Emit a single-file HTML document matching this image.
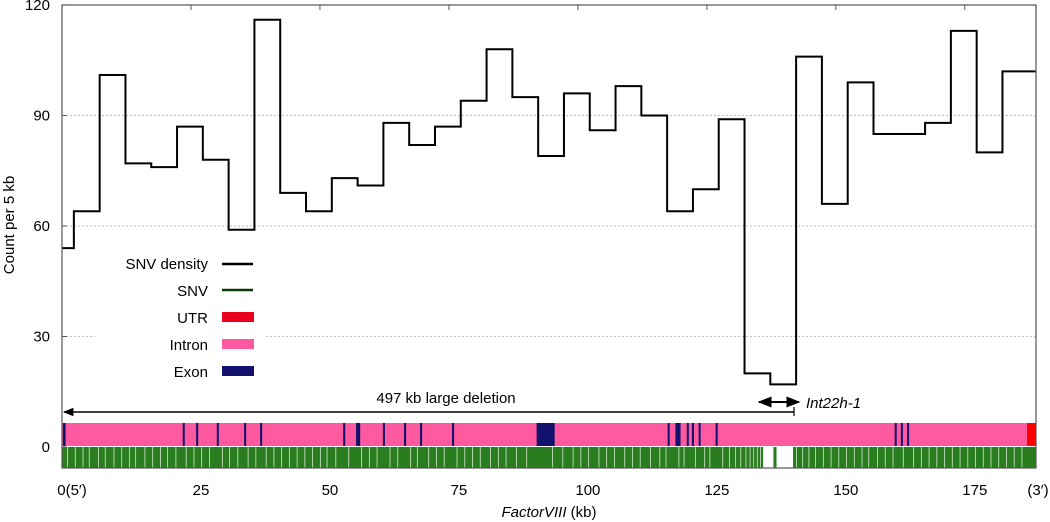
<!DOCTYPE html>
<html><head><meta charset="utf-8"><style>
body{margin:0;background:#fff;}
svg{display:block;font-family:"Liberation Sans",Arial,sans-serif;}
</style></head><body>
<svg id="chart" width="1050" height="522" viewBox="0 0 1050 522">
<defs>
<marker id="ah" viewBox="0 0 10 10" refX="9" refY="5" markerWidth="7" markerHeight="7" orient="auto-start-reverse"><path d="M0,1 L10,5 L0,9 z" fill="#000"/></marker>
</defs>
<g id="grid"></g>
<g id="tracks"></g>
<g id="series"></g>
<rect x="62" y="5" width="974" height="463" fill="none" stroke="#555" stroke-width="1.2"/>
<g id="axes"></g>
<g>
<rect x="95" y="250" width="170" height="132" fill="#fff"/>
<text x="208" y="269" text-anchor="end" font-size="15">SNV density</text>
<line x1="222" y1="264" x2="253" y2="264" stroke="#000" stroke-width="2.5"/>
<text x="208" y="296" text-anchor="end" font-size="15">SNV</text>
<line x1="222" y1="290" x2="253" y2="290" stroke="#0a3a0a" stroke-width="2.5"/>
<text x="208" y="323" text-anchor="end" font-size="15">UTR</text>
<rect x="222" y="312" width="32" height="10" fill="#e8001c"/>
<text x="208" y="350" text-anchor="end" font-size="15">Intron</text>
<rect x="222" y="339" width="32" height="10" fill="#ff5aa0"/>
<text x="208" y="377" text-anchor="end" font-size="15">Exon</text>
<rect x="222" y="366" width="32" height="10" fill="#12126e"/>
</g>
<g>
<line x1="64" y1="412" x2="794" y2="412" stroke="#000" stroke-width="1.5" marker-start="url(#ah)"/>
<line x1="794" y1="407" x2="794" y2="416" stroke="#000" stroke-width="1.2"/>
<text x="446" y="403" text-anchor="middle" font-size="15">497 kb large deletion</text>
<line x1="759" y1="402" x2="799" y2="402" stroke="#000" stroke-width="2" marker-start="url(#ah)" marker-end="url(#ah)"/>
<text x="806" y="408" font-size="15" font-style="italic">Int22h-1</text>
</g>
<text transform="translate(14,225) rotate(-90)" text-anchor="middle" font-size="15">Count per 5 kb</text>
<text x="549" y="517" text-anchor="middle" font-size="15"><tspan font-style="italic">FactorVIII</tspan> (kb)</text>
</svg>
<script>
const counts=[54,64,101,77,76,87,78,59,116,69,64,73,71,88,82,87,94,108,95,79,96,86,98,90,64,70,89,20,17,106,66,99,85,85,88,113,80,102];
const yTicks=[0,30,60,90,120];
const xTickLabels=["0(5′)","25","50","75","100","125","150","175"];
const xTickKb=[0,25,50,75,100,125,150,175];
const exonKb=[0.2,23.4,26,30,35.3,38.4,54.5,57,62.2,66.3,69.4,75.6,92,117.4,118.9,121.1,122.1,123.4,126.7,161.4,162.6,163.8];
const exonWidthKb=[0.5,0.4,0.4,0.4,0.4,0.4,0.4,0.8,0.4,0.4,0.4,0.4,3.5,0.4,1.0,0.4,0.4,0.4,0.4,0.4,0.4,0.4];
const snvGapKb=[1,2.5,4,5.2,7,8.3,10,11.5,13,14.2,16,17.5,19,20.4,22,24,25.5,27,28.5,31,32.4,34,36,37.5,39.5,41,42.5,44,45.5,47,48.5,50,51.3,53,55.5,58,59.5,61,63.5,65,67.5,68.8,71,72.5,74,76.5,78,79.5,81,83,84.5,86,88,90,95,97,99,100.5,102,104,105.5,107,109,110.5,112,114,115.8,117,119.5,120.5,122.7,124.5,125.5,128,129.3,130.5,131.5,132.5,133.3,134,134.7,135.3,140.6,141.5,142.3,143.5,144.7,146,147.5,149,150.5,152,153.5,155,156.3,158,159.5,161,163,165,166.5,168,169.5,171,172.5,174,175.5,177,178.5,180,181.5,183,184.5,186];
const NS="http://www.w3.org/2000/svg";
const X0=62,X1=1036,KBMAX=188.8,Y0=447,YPX=3.683;
const x=kb=>X0+kb*(X1-X0)/KBMAX;
const y=v=>Y0-v*YPX;
const xl=kb=>x(kb)+10;
function mk(tag,attrs,parent){const e=document.createElementNS(NS,tag);for(const k in attrs)e.setAttribute(k,attrs[k]);parent.appendChild(e);return e;}
const grid=document.getElementById('grid'),axes=document.getElementById('axes'),series=document.getElementById('series'),tracks=document.getElementById('tracks');
yTicks.forEach(v=>{
 if(v>0&&v<120){const l=mk('line',{x1:X0,x2:X1,y1:y(v),y2:y(v),stroke:'#bbb','stroke-dasharray':'2,2','stroke-width':1},grid);
 
 }
 mk('line',{x1:X0,x2:X0+5,y1:y(v),y2:y(v),stroke:'#555'},axes);
 const t=mk('text',{x:50,y:y(v)+5,'text-anchor':'end','font-size':15},axes);t.textContent=v;
 
 
});
for(let k=1;k<8;k++){mk('line',{x1:x(k*25),x2:x(k*25),y1:5,y2:10,stroke:'#555'},axes);}
xTickKb.forEach((kb,i)=>{
 const t=mk('text',{x:xl(kb),y:495,'text-anchor':'middle','font-size':15},axes);t.textContent=xTickLabels[i];
 
 
});
const t3=mk('text',{x:1038,y:495,'text-anchor':'middle','font-size':15},axes);t3.textContent="(3′)";


let d='';
counts.forEach((c,i)=>{
 const a=i===0?0:2.3+5*(i-1);
 const b=i===counts.length-1?KBMAX:2.3+5*i;
 d+=(i===0?'M':'L')+x(a)+','+y(c)+' L'+x(b)+','+y(c)+' ';
});
const p=mk('path',{d:d,fill:'none',stroke:'#000','stroke-width':2},series);


const intron=mk('rect',{x:X0,y:423,width:X1-X0,height:23,fill:'#ff5aa0'},tracks);


const utr=mk('rect',{x:1027,y:423,width:9,height:23,fill:'#ff0000'},tracks);


exonKb.forEach((kb,i)=>{
 const e=mk('rect',{x:x(kb),y:423,width:Math.max(2,exonWidthKb[i]*5.16),height:23,fill:'#12126e'},tracks);
 
 
});
const snv=mk('rect',{x:X0,y:447,width:X1-X0,height:21,fill:'#2a7d1f'},tracks);


snvGapKb.forEach(kb=>{
 const g=mk('rect',{x:x(kb),y:447,width:0.8,height:21,fill:'#cfe8c7'},tracks);
 
 
});
[[135.9,2],[138.5,3.2]].forEach(r=>{
 const g=mk('rect',{x:x(r[0]),y:447,width:r[1]*5.16,height:21,fill:'#fff'},tracks);
 
 
});
</script>
</body></html>
